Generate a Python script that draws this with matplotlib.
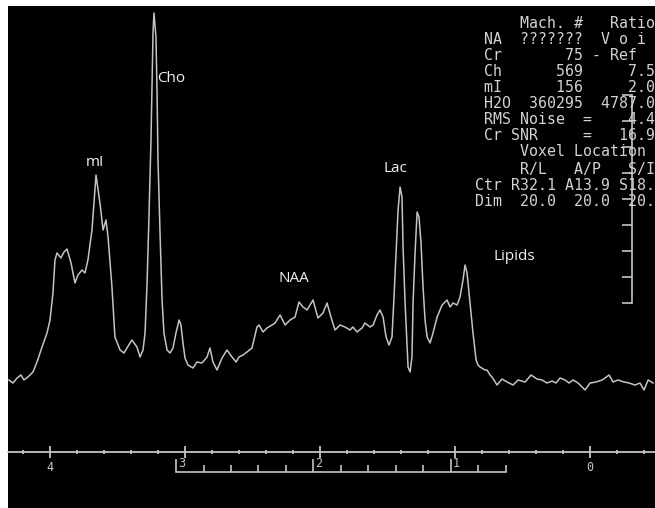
from __future__ import annotations

import numpy as np
import matplotlib

matplotlib.use("Agg")
import matplotlib.pyplot as mp
from matplotlib.ticker import FixedFormatter, FixedLocator, NullFormatter

# {{{ data

# chemical shift (ppm) and signal (arbitrary units, baseline ~ 0)
ppm = [
    4.304, 4.274, 4.244, 4.215, 4.193, 4.163, 4.126, 4.096, 4.059, 4.022,
    4.000, 3.978, 3.963, 3.948, 3.919, 3.896, 3.874, 3.844, 3.815, 3.793,
    3.763, 3.741, 3.719, 3.689, 3.659, 3.630, 3.607, 3.585, 3.570, 3.541,
    3.519, 3.481, 3.452, 3.430, 3.393, 3.356, 3.333, 3.311, 3.296, 3.281,
    3.267, 3.252, 3.244, 3.237, 3.230, 3.215, 3.207, 3.200, 3.185, 3.170,
    3.156, 3.133, 3.111, 3.089, 3.067, 3.044, 3.030, 3.015, 3.000, 2.978,
    2.941, 2.911, 2.874, 2.837, 2.815, 2.793, 2.763, 2.726, 2.689, 2.652,
    2.622, 2.600, 2.570, 2.541, 2.504, 2.467, 2.452, 2.422, 2.393, 2.356,
    2.333, 2.296, 2.259, 2.222, 2.185, 2.156, 2.126, 2.096, 2.052, 2.015,
    1.978, 1.948, 1.919, 1.889, 1.852, 1.815, 1.778, 1.756, 1.726, 1.689,
    1.667, 1.630, 1.607, 1.578, 1.556, 1.533, 1.511, 1.489, 1.467, 1.452,
    1.437, 1.422, 1.407, 1.393, 1.385, 1.370, 1.356, 1.348, 1.333, 1.319,
    1.311, 1.296, 1.281, 1.267, 1.252, 1.237, 1.222, 1.207, 1.185, 1.163,
    1.133, 1.096, 1.059, 1.037, 1.015, 0.985, 0.963, 0.941, 0.926, 0.911,
    0.889, 0.867, 0.844, 0.830, 0.815, 0.778, 0.763, 0.741, 0.726, 0.689,
    0.652, 0.615, 0.570, 0.533, 0.481, 0.437, 0.393, 0.356, 0.319, 0.281,
    0.252, 0.222, 0.185, 0.156, 0.126, 0.089, 0.037, 0.000, -0.044, -0.089,
    -0.111, -0.141, -0.170, -0.207, -0.252, -0.289, -0.333, -0.370, -0.400,
    -0.430, -0.467,
]
signal = [
    0, -3, 2, 5, 0, 3, 8, 18, 33, 47,
    60, 87, 120, 127, 122, 128, 131, 117, 97, 105,
    110, 107, 120, 150, 205, 177, 150, 160, 143, 93,
    43, 30, 27, 32, 40, 33, 23, 30, 47, 97,
    163, 240, 297, 347, 367, 343, 287, 220, 147, 80,
    47, 30, 27, 32, 47, 60, 55, 37, 22, 15,
    12, 18, 17, 23, 32, 18, 10, 22, 30, 23,
    18, 23, 25, 28, 32, 53, 55, 48, 52, 55,
    57, 65, 55, 60, 63, 78, 73, 70, 80, 62,
    67, 77, 63, 50, 55, 53, 50, 53, 48, 52,
    57, 53, 55, 65, 70, 63, 43, 35, 43, 83,
    127, 170, 193, 183, 133, 77, 37, 13, 8, 23,
    77, 127, 168, 163, 137, 93, 60, 43, 37, 47,
    63, 75, 80, 73, 77, 75, 83, 100, 115, 107,
    77, 47, 20, 15, 13, 10, 10, 5, 3, -5,
    1, -2, -5, 0, -2, 5, 1, 0, -3, -1,
    -3, 2, 0, -3, 0, -3, -10, -3, -2, 0,
    2, 5, -2, 0, -2, -3, -5, -3, -10,
    0, -3,
]

peak_names = ["mI", "Cho", "NAA", "Lac", "Lipids"]
peak_ppm = [3.667, 3.104, 2.193, 1.444, 0.563]
peak_height = [217, 301, 101, 212, 124]

ppm_ticks = [4, 3, 2, 1, 0]
ppm_labels = ["4", "", "", "", "0"]
ruler_ticks = [3, 2, 1]
ruler_range = (0.6, 3.0)

table_lines = [
    "     Mach. #   Ratio",
    " NA  ???????  V o i",
    " Cr       75 - Ref",
    " Ch      569     7.5",
    " mI      156     2.0",
    " H2O  360295  4787.0",
    " RMS Noise  =    4.4",
    " Cr SNR     =   16.9",
    "     Voxel Location",
    "     R/L   A/P   S/I",
    "Ctr R32.1 A13.9 S18.",
    "Dim  20.0  20.0  20.",
]

# }}}

W, H = 655, 508
FG = "#c4c4c4"
TXT = "#d2d2d2"


def frac(x0: float, y0: float, w: float, h: float) -> list[float]:
    # pixel box (top-left origin) -> figure fraction
    return [x0 / W, 1 - (y0 + h) / H, w / W, h / H]


fig = mp.figure(figsize=(W / 100, H / 100), dpi=100, facecolor="white")

# main spectrum panel
ax = fig.add_axes(frac(8, 6, 647, 502))
ax.set_facecolor("black")
ax.plot(ppm, signal, color=FG, lw=1.1)
ax.set_xlim(4.311, -0.481)
ax.set_ylim(-128, 374)

for side in ("top", "left", "right"):
    ax.spines[side].set_visible(False)
ax.spines["bottom"].set_position(("data", -72))
ax.spines["bottom"].set_color(FG)
ax.spines["bottom"].set_linewidth(1.3)
ax.yaxis.set_visible(False)
ax.xaxis.set_major_locator(FixedLocator(ppm_ticks))
ax.xaxis.set_major_formatter(FixedFormatter(ppm_labels))
ax.xaxis.set_minor_locator(FixedLocator(np.arange(-0.4, 4.31, 0.2)))
ax.tick_params(axis="x", which="major", direction="inout", length=8,
               width=1.3, color=FG, labelcolor=FG, labelsize=8.5, pad=2.5)
ax.tick_params(axis="x", which="minor", direction="inout", length=3,
               width=1.3, color=FG)
for lab in ax.get_xticklabels():
    lab.set_family("DejaVu Sans Mono")

for name, x, y in zip(peak_names, peak_ppm, peak_height):
    ax.text(x, y, name, ha="center", va="center", color="#f2f2f2",
            fontsize=11, family="Open Sans")

# lower bracket ruler (slightly different scale)
ax2 = fig.add_axes(frac(8, 6, 647, 502))
ax2.patch.set_alpha(0)
ax2.set_xlim(4.222, -0.484)
ax2.set_ylim(-128, 374)
for side in ("top", "left", "right"):
    ax2.spines[side].set_visible(False)
ax2.yaxis.set_visible(False)
ax2.spines["bottom"].set_position(("data", -92))
ax2.spines["bottom"].set_bounds(*ruler_range)
ax2.spines["bottom"].set_color(FG)
ax2.spines["bottom"].set_linewidth(1.2)
ax2.xaxis.set_major_locator(FixedLocator(ruler_ticks))
ax2.xaxis.set_minor_locator(
    FixedLocator(np.arange(ruler_range[0], ruler_range[1] + 0.01, 0.2)))
ax2.xaxis.set_major_formatter(NullFormatter())
ax2.tick_params(axis="x", which="major", direction="in", length=9.5,
                width=1.2, color=FG)
ax2.tick_params(axis="x", which="minor", direction="in", length=5,
                width=1.2, color=FG)
for t in ruler_ticks:
    ax2.annotate(f"{t}", (t, -92), xytext=(1.5, 1.5), textcoords="offset points",
                 ha="left", va="bottom", color=FG, fontsize=8.5,
                 family="DejaVu Sans Mono")

# vertical amplitude scale on the right
ax3 = fig.add_axes(frac(632, 95, 0.5, 208))
ax3.patch.set_alpha(0)
ax3.set_ylim(0, 8)
for side in ("top", "bottom", "right"):
    ax3.spines[side].set_visible(False)
ax3.spines["left"].set_color(FG)
ax3.spines["left"].set_linewidth(1.2)
ax3.xaxis.set_visible(False)
ax3.yaxis.set_major_locator(FixedLocator(range(9)))
ax3.yaxis.set_major_formatter(NullFormatter())
ax3.tick_params(axis="y", direction="out", length=7, width=1.2, color=FG)

# scanner readout table
row_y = [23, 40, 56, 72, 88, 104, 120, 136, 152, 169, 185, 201]
for line, y in zip(table_lines, row_y):
    fig.text(475 / W, 1 - y / H, line, ha="left", va="center", color=TXT,
             fontsize=10.75, family="DejaVu Sans Mono")

fig.savefig("out.png", dpi=100, facecolor=fig.get_facecolor())
